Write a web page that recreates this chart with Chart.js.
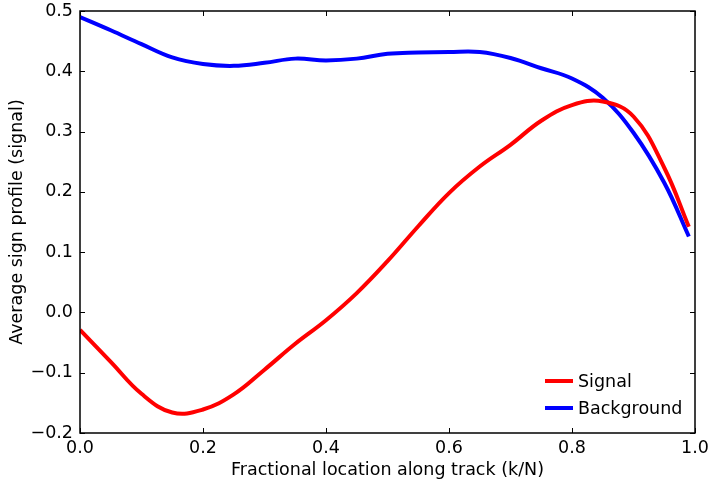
<!DOCTYPE html>
<html>
<head>
<meta charset="utf-8">
<script src="https://cdn.jsdelivr.net/npm/chart.js@4"></script>
<style>
  html, body { margin: 0; padding: 0; background: #fff; }
  #wrap { width: 710px; height: 486px; }
</style>
</head>
<body>
<div id="wrap"><canvas id="profileChart"></canvas></div>
<script>
// fractional location k/N
const location_kN = [0.00, 0.05, 0.10, 0.15, 0.20, 0.25, 0.30, 0.35, 0.40, 0.45, 0.50,
                     0.55, 0.60, 0.65, 0.70, 0.75, 0.80, 0.85, 0.90, 0.95, 0.99];
const signalProfile = [-0.029, -0.082, -0.135, -0.166, -0.161, -0.136, -0.095, -0.052, -0.013, 0.032, 0.085,
                       0.143, 0.198, 0.242, 0.278, 0.318, 0.344, 0.350, 0.325, 0.240, 0.142];
const backgroundProfile = [0.490, 0.468, 0.445, 0.423, 0.412, 0.409, 0.414, 0.421, 0.418, 0.421, 0.429,
                           0.431, 0.432, 0.432, 0.422, 0.405, 0.388, 0.356, 0.298, 0.215, 0.126];
const xTicks = [0.0, 0.2, 0.4, 0.6, 0.8, 1.0];
const yTicks = [-0.2, -0.1, 0.0, 0.1, 0.2, 0.3, 0.4, 0.5];

const FONT = "'DejaVu Sans', sans-serif";
const FSIZE = 17.5;

function fmt(v) {
  const s = Math.abs(v).toFixed(1);
  return v < -1e-9 ? "\u2212" + s : s;
}

/* ===== frame with inward ticks on all sides ===== */
const framePlugin = {
  id: "frame",
  afterDraw(chart) {
    const { ctx, chartArea: a, scales } = chart;
    const len = 5;
    ctx.save();
    ctx.strokeStyle = "#000";
    ctx.lineWidth = 1;
    ctx.beginPath();
    xTicks.forEach(t => {
      const px = Math.round(scales.x.getPixelForValue(t)) + 0.5;
      ctx.moveTo(px, a.bottom); ctx.lineTo(px, a.bottom - len);
      ctx.moveTo(px, a.top); ctx.lineTo(px, a.top + len);
    });
    yTicks.forEach(t => {
      const py = Math.round(scales.y.getPixelForValue(t)) + 0.5;
      ctx.moveTo(a.left, py); ctx.lineTo(a.left + len, py);
      ctx.moveTo(a.right, py); ctx.lineTo(a.right - len, py);
    });
    ctx.stroke();
    ctx.lineWidth = 1.5;
    ctx.strokeRect(a.left, a.top, a.right - a.left, a.bottom - a.top);
    ctx.restore();
  }
};

/* ===== legend inside, lower right ===== */
const insideLegend = {
  id: "insideLegend",
  afterDraw(chart) {
    const { ctx, chartArea: a } = chart;
    ctx.save();
    ctx.font = FSIZE + "px " + FONT;
    ctx.textBaseline = "middle";
    chart.data.datasets.forEach((ds, i) => {
      const y = a.bottom - 52 + i * 27;
      ctx.strokeStyle = ds.borderColor;
      ctx.lineWidth = 4;
      ctx.beginPath();
      ctx.moveTo(a.right - 150, y);
      ctx.lineTo(a.right - 122, y);
      ctx.stroke();
      ctx.fillStyle = "#000";
      ctx.fillText(ds.label, a.right - 117, y + 1);
    });
    ctx.restore();
  }
};

const ctx = document.getElementById("profileChart");

new Chart(ctx, {
  type: "line",
  data: {
    datasets: [{
      label: "Signal",
      data: location_kN.map((x, i) => ({ x: x, y: signalProfile[i] })),
      borderColor: "#ff0000",
      borderWidth: 4,
      pointRadius: 0,
      tension: 0.4,
      fill: false
    }, {
      label: "Background",
      data: location_kN.map((x, i) => ({ x: x, y: backgroundProfile[i] })),
      borderColor: "#0000ff",
      borderWidth: 4,
      pointRadius: 0,
      tension: 0.4,
      fill: false
    }]
  },
  options: {
    responsive: true,
    maintainAspectRatio: false,
    animation: false,
    layout: { padding: { left: 0, right: 15, top: 11, bottom: 0 } },
    plugins: {
      legend: { display: false },
      tooltip: { enabled: false }
    },
    scales: {
      x: {
        type: "linear",
        min: 0,
        max: 1,
        afterBuildTicks: s => { s.ticks = xTicks.map(v => ({ value: v })); },
        afterFit: s => { s.height = 53; s.paddingLeft = 0; s.paddingRight = 0; },
        grid: { display: false, drawTicks: false },
        border: { display: false },
        ticks: {
          color: "#000",
          padding: 5,
          maxRotation: 0,
          font: { family: FONT, size: FSIZE },
          callback: v => fmt(v)
        },
        title: {
          display: true,
          text: "Fractional location along track (k/N)",
          color: "#000",
          font: { family: FONT, size: FSIZE },
          padding: { top: 2, bottom: 5 }
        }
      },
      y: {
        min: -0.2,
        max: 0.5,
        afterBuildTicks: s => { s.ticks = yTicks.map(v => ({ value: v })); },
        afterFit: s => { s.width = 80; s.paddingTop = 0; s.paddingBottom = 0; },
        grid: { display: false, drawTicks: false },
        border: { display: false },
        ticks: {
          color: "#000",
          padding: 7,
          font: { family: FONT, size: FSIZE },
          callback: v => fmt(v)
        },
        title: {
          display: true,
          text: "Average sign profile (signal)",
          color: "#000",
          font: { family: FONT, size: FSIZE },
          padding: { top: 7, bottom: 0 }
        }
      }
    }
  },
  plugins: [framePlugin, insideLegend]
});
</script>
</body>
</html>
